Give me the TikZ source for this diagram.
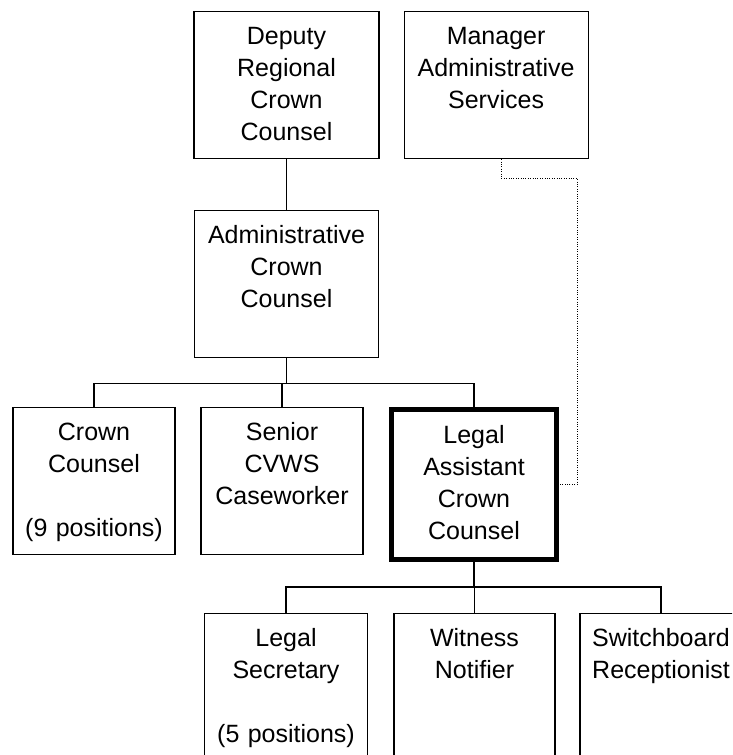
\documentclass[tikz,border=0pt]{standalone}
\usepackage{fontspec}
\setmainfont{Liberation Sans}
\usetikzlibrary{positioning}

\begin{document}
\begin{tikzpicture}[
    x=1pt, y=1pt,
    post/.style={rectangle, draw, line width=1.1pt, anchor=north, inner sep=0pt,
      text width=#1, minimum width=#1, align=center,
      text height=33pt, text depth=114pt,
      font=\fontsize{25pt}{32pt}\selectfont},
    post/.default=162pt,
    keypost/.style={post=165pt, line width=5pt, text height=33.5pt, text depth=116.5pt},
    link/.style={line width=1.1pt},
    dotlink/.style={line width=1pt, dash pattern=on 1pt off 1.4pt}
  ]
    \useasboundingbox (0,0) rectangle (732,-755);
    \clip (0,0) rectangle (732,-755);

    \node[post=185pt] (dep) at (286.5,-11) {Deputy\\Regional\\Crown\\Counsel};
    \node[post=184pt, right=24pt of dep] (mgr) {Manager\\Administrative\\Services};
    \node[post=184pt, below=51pt of dep] (admin) {Administrative\\Crown\\Counsel};

    \node[post] (crown) at (94,-407) {Crown\\Counsel\\[32pt](9 positions)};
    \node[post] (senior) at (282,-407) {Senior\\CVWS\\Caseworker};
    \node[keypost] (legal) at (474,-407) {Legal\\Assistant\\Crown\\Counsel};

    \node[post=163pt] (lsec) at (286,-613) {Legal\\Secretary\\[32pt](5 positions)};
    \node[post=161pt] (witness) at (474.5,-613) {Witness\\Notifier};
    \node[post] (switch) at (661,-612.5) {Switchboard\\Receptionist};

    \coordinate (bus1) at ([yshift=-25pt]admin.south);
    \coordinate (bus2) at ([yshift=-25pt]legal.south);
    \coordinate (dotbend) at (577,-178);

    \draw[link] (dep.south) -- (admin.north);
    \draw[link] (admin.south) -- (bus1);
    \draw[link] (crown.north) |- (bus1) -| (legal.north);
    \draw[link] (senior.north) -- (senior.north |- bus1);

    \draw[link] (legal.south) -- (bus2);
    \draw[link] (lsec.north) |- (bus2) -| (switch.north);
    \draw[link] (witness.north) -- (witness.north |- bus2);

    \draw[dotlink] ([xshift=5pt]mgr.south) |- (dotbend) |- (legal.east);
  \end{tikzpicture}
\end{document}
